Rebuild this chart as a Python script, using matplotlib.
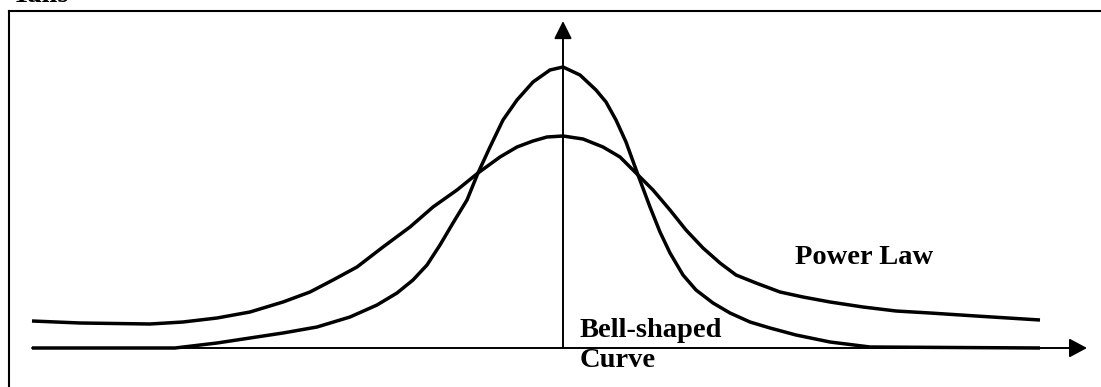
import matplotlib
matplotlib.use("Agg")
import matplotlib.pyplot as plt
from matplotlib.lines import Line2D

# readings: x relative to the vertical axis, height above baseline
bell_x = [-531, -388, -346, -313, -280, -246, -213, -186, -166, -150, -136,
          -123, -110, -96, -85, -73, -60, -46, -30, -13, 0, 17, 33, 43, 53, 63,
          75, 87, 97, 107, 120, 133, 150, 167, 187, 207, 233, 267, 307, 477]
bell_h = [0, 0, 5, 10, 15, 21, 31, 43, 55, 68, 83,
          103, 125, 148, 175, 201, 228, 248, 266, 278, 281, 273, 258, 246, 228, 206,
          173, 141, 116, 95, 73, 58, 45, 35, 26, 20, 13, 6, 1, 0]

power_x = [-531, -483, -413, -380, -346, -313, -280, -253, -230, -206, -180, -153,
           -130, -106, -85, -63, -46, -30, -16, 0, 20, 40, 57, 75, 90, 107, 123,
           140, 157, 173, 193, 217, 240, 267, 300, 333, 367, 413, 477]
power_h = [27, 25, 24, 26, 30, 36, 46, 56, 68, 81, 101, 121,
           141, 158, 175, 191, 201, 207, 211, 212, 209, 201, 191, 173, 158, 138, 118,
           100, 85, 73, 65, 56, 51, 46, 41, 37, 35, 32, 28]

labels = ["Power Law", "Bell-shaped\nCurve", "Tails"]

fig = plt.figure(figsize=(11.01, 3.87), dpi=100)
ax = fig.add_axes([0, 0, 1, 1])
ax.set_xlim(-563, 538)
ax.set_ylim(-39, 348)
ax.axis("off")

font = dict(family="Liberation Serif", fontweight="bold", fontsize=20.5)

# axes with arrows
ax.annotate("", xy=(524, 0), xytext=(-531, 0),
            arrowprops=dict(arrowstyle="-|>,head_length=1.08,head_width=0.58",
                            mutation_scale=10, lw=1.4, color="black",
                            shrinkA=0, shrinkB=0))
ax.annotate("", xy=(0, 327), xytext=(0, 0),
            arrowprops=dict(arrowstyle="-|>,head_length=1.08,head_width=0.54",
                            mutation_scale=10, lw=1.4, color="black",
                            shrinkA=0, shrinkB=0))

ax.plot(bell_x, bell_h, color="black", lw=2.5, solid_joinstyle="round",
        solid_capstyle="butt")
ax.plot(power_x, power_h, color="black", lw=2.5, solid_joinstyle="round",
        solid_capstyle="butt")

ax.text(232, 84, labels[0], ha="left", va="baseline", **font)
ax.text(17, 11, labels[1].split("\n")[0], ha="left", va="baseline", **font)
ax.text(17, -19, labels[1].split("\n")[1], ha="left", va="baseline", **font)

# frame round the sketch (only top and left edges are inside the picture)
fx, fy = 8.5 / 1101, 1 - 10.5 / 387
fig.add_artist(Line2D([fx, 1], [fy, fy], transform=fig.transFigure,
                      color="black", lw=1.5))
fig.add_artist(Line2D([fx, fx], [0, fy], transform=fig.transFigure,
                      color="black", lw=1.5))
# title above the frame, mostly outside the picture as in the original
fig.text(12 / 1101, 1 - 2 / 387, labels[2], ha="left", va="baseline", **font)

fig.savefig("out.png", dpi=100)
